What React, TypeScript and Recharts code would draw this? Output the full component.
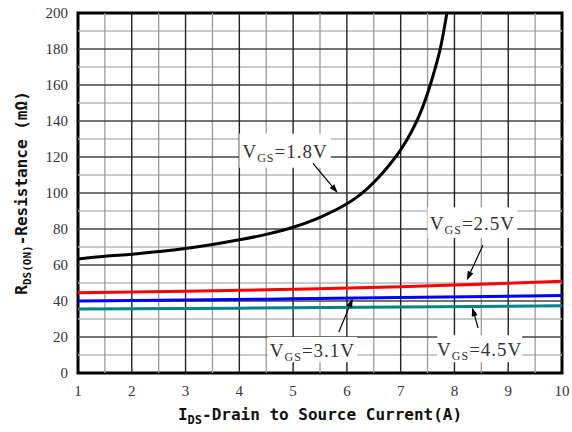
import React from 'react';
import { LineChart, Line, XAxis, YAxis, ReferenceLine, ReferenceArea, Label } from 'recharts';

// Axis ticks / grid
const xTicks = [1, 2, 3, 4, 5, 6, 7, 8, 9, 10];
const xMinor = [1.5, 2.5, 3.5, 4.5, 5.5, 6.5, 7.5, 8.5, 9.5];
const yTicks = [0, 20, 40, 60, 80, 100, 120, 140, 160, 180, 200];
const yMinor = [10, 30, 50, 70, 90, 110, 130, 150, 170, 190];
const xMajorInner = [2, 3, 4, 5, 6, 7, 8, 9];
const yMajorInner = [20, 40, 60, 80, 100, 120, 140, 160, 180];

// Series: VGS = 1.8V
const vgs18Current = [1, 1.5, 2, 2.5, 3, 3.5, 4, 4.5, 5, 5.5, 6, 6.2, 6.4, 6.6, 6.8, 7.0, 7.2, 7.4, 7.6, 7.75, 7.86];
const vgs18Rds = [63.3, 64.8, 66, 67.5, 69.2, 71.4, 74, 77, 81, 86.5, 94, 98, 103, 109, 116, 124, 134, 147, 165, 182, 200];
// VGS = 2.5V
const vgs25Current = [1, 3, 5, 7, 8, 9, 10];
const vgs25Rds = [44.6, 45.4, 46.5, 47.9, 48.9, 49.9, 51];
// VGS = 3.1V
const vgs31Current = [1, 3, 5, 7, 10];
const vgs31Rds = [40, 40.5, 41.2, 41.9, 43];
// VGS = 4.5V
const vgs45Current = [1, 4, 7, 10];
const vgs45Rds = [35.5, 36, 36.6, 37.4];

const toData = (xs: number[], ys: number[]) => xs.map((x, i) => ({ x, r: ys[i] }));
const d18 = toData(vgs18Current, vgs18Rds);
const d25 = toData(vgs25Current, vgs25Rds);
const d31 = toData(vgs31Current, vgs31Rds);
const d45 = toData(vgs45Current, vgs45Rds);

// Annotations (data coordinates)
const annotations = [
  { text: '=1.8V', x1: 4.0, x2: 5.7, y1: 114, y2: 133, ax1: 5.37, ay1: 116.5, ax2: 5.83, ay2: 100 },
  { text: '=2.5V', x1: 7.5, x2: 9.17, y1: 75, y2: 92, ax1: 8.53, ay1: 71, ax2: 8.23, ay2: 51.5 },
  { text: '=3.1V', x1: 4.53, x2: 6.19, y1: 6, y2: 20, ax1: 5.85, ay1: 22.8, ax2: 6.11, ay2: 41.5 },
  { text: '=4.5V', x1: 7.68, x2: 9.26, y1: 6, y2: 21, ax1: 8.44, ay1: 25, ax2: 8.33, ay2: 36.5 },
];

const serif = '"Liberation Serif", "DejaVu Serif", serif';
const mono = '"DejaVu Sans Mono", "Liberation Mono", monospace';

const Arrow = (props: any) => {
  const { x1, y1, x2, y2 } = props;
  const ang = Math.atan2(y2 - y1, x2 - x1);
  const L = 9;
  const W = 3;
  const bx = x2 - L * Math.cos(ang);
  const by = y2 - L * Math.sin(ang);
  const px = -Math.sin(ang) * W;
  const py = Math.cos(ang) * W;
  return (
    <g>
      <line x1={x1} y1={y1} x2={bx} y2={by} stroke="#000" strokeWidth={1.2} />
      <polygon points={`${x2},${y2} ${bx + px},${by + py} ${bx - px},${by - py}`} fill="#000" />
    </g>
  );
};

const makeBox = (text: string) => (props: any) => {
  const { x1, y1, x2, y2 } = props;
  const x = Math.min(x1, x2);
  const y = Math.min(y1, y2);
  const width = Math.abs(x2 - x1);
  const height = Math.abs(y2 - y1);
  const cx = x + width / 2;
  const cy = y + height / 2;
  return (
    <g>
      <rect x={x} y={y} width={width} height={height} fill="#fff" />
      <text x={cx} y={cy + 7} textAnchor="middle" fontFamily={serif} fontSize={19} fill="#333" letterSpacing={1}>
        V<tspan fontSize={12} dy={4}>GS</tspan>
        <tspan dy={-4}>{text}</tspan>
      </text>
    </g>
  );
};

const XTitle = (props: any) => {
  const vb = props.viewBox;
  return (
    <text x={vb.x + vb.width / 2} y={vb.y + 47} textAnchor="middle" fontFamily={mono} fontWeight="bold" fontSize={16} fill="#111">
      I<tspan fontSize={12} dy={4}>DS</tspan>
      <tspan dy={-4}>-Drain to Source Current(A)</tspan>
    </text>
  );
};

const YTitle = (props: any) => {
  const vb = props.viewBox;
  const cx = 27;
  const cy = vb.y + vb.height / 2;
  return (
    <text x={cx} y={cy} transform={`rotate(-90 ${cx} ${cy})`} textAnchor="middle" fontFamily={mono} fontWeight="bold" fontSize={16} fill="#111">
      R<tspan fontSize={11} dy={4}>DS(ON)</tspan>
      <tspan dy={-4}>-Resistance (mΩ)</tspan>
    </text>
  );
};

export default function App() {
  return (
    <div style={{ position: 'absolute', left: 0, top: 0, width: 572, height: 432, background: '#fff' }}>
      <LineChart width={572} height={432} margin={{ top: 13, right: 10, bottom: 0, left: 0 }}>
        <XAxis
          type="number"
          dataKey="x"
          domain={[1, 10]}
          ticks={xTicks}
          allowDataOverflow
          height={59}
          tickLine={false}
          axisLine={false}
          tick={{ fontFamily: serif, fontSize: 15, fill: '#333' }}
          tickMargin={6}
        >
          <Label content={<XTitle />} />
        </XAxis>
        <YAxis
          type="number"
          dataKey="r"
          domain={[0, 200]}
          ticks={yTicks}
          allowDataOverflow
          width={78}
          tickLine={false}
          axisLine={false}
          tick={{ fontFamily: serif, fontSize: 15, fill: '#333' }}
          tickMargin={4}
        >
          <Label content={<YTitle />} />
        </YAxis>
        {yMinor.map((v) => (
          <ReferenceLine key={'ym' + v} y={v} stroke="#b8b8b8" strokeWidth={1.3} />
        ))}
        {xMinor.map((v) => (
          <ReferenceLine key={'xm' + v} x={v} stroke="#9a9a9a" strokeWidth={1.3} />
        ))}
        {yMajorInner.map((v) => (
          <ReferenceLine key={'yM' + v} y={v} stroke="#444" strokeWidth={1.4} />
        ))}
        {xMajorInner.map((v) => (
          <ReferenceLine key={'xM' + v} x={v} stroke="#222" strokeWidth={1.4} />
        ))}
        {annotations.map((a) => (
          <ReferenceLine
            key={'box' + a.text}
            segment={[{ x: a.x1, y: a.y2 }, { x: a.x2, y: a.y1 }]}
            shape={makeBox(a.text)}
          />
        ))}
        <Line data={d45} dataKey="r" type="monotone" stroke="#008484" strokeWidth={3} dot={false} isAnimationActive={false} />
        <Line data={d31} dataKey="r" type="monotone" stroke="#0000ff" strokeWidth={3} dot={false} isAnimationActive={false} />
        <Line data={d25} dataKey="r" type="monotone" stroke="#ff0000" strokeWidth={3} dot={false} isAnimationActive={false} />
        <Line data={d18} dataKey="r" type="monotone" stroke="#000" strokeWidth={3} dot={false} isAnimationActive={false} />
        {annotations.map((a) => (
          <ReferenceLine
            key={'arr' + a.text}
            segment={[{ x: a.ax1, y: a.ay1 }, { x: a.ax2, y: a.ay2 }]}
            shape={<Arrow />}
          />
        ))}
        <ReferenceArea x1={1} x2={10} y1={0} y2={200} fill="none" fillOpacity={0} stroke="#000" strokeWidth={3} />
      </LineChart>
    </div>
  );
}
